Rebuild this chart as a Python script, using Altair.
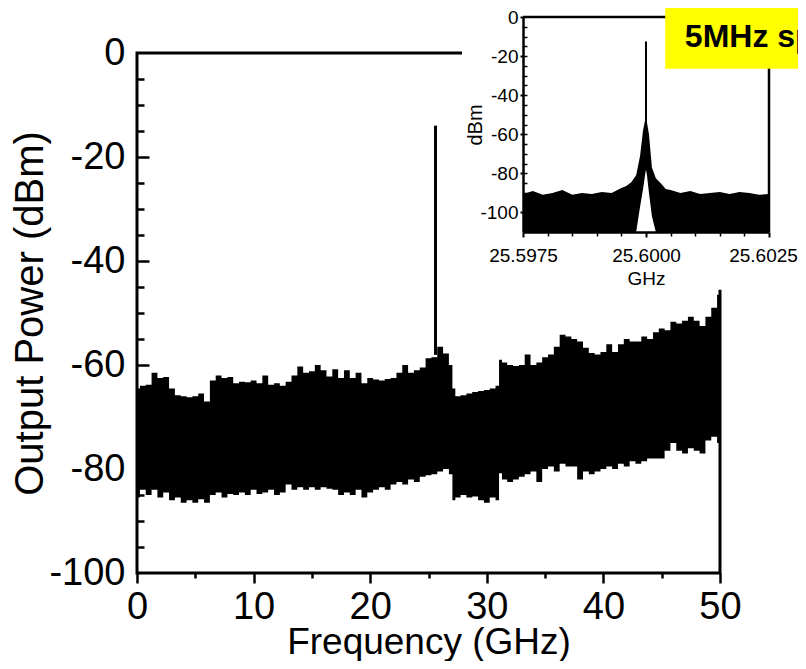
import altair as alt
import pandas as pd

FONT = "Liberation Sans"

# ---------------- main spectrum (0-50 GHz) ----------------
main_freq = [0.0, 0.5, 1.0, 1.5, 2.0, 2.5, 3.0, 3.5, 4.0, 4.5, 5.0, 5.5, 6.0, 6.5, 7.0, 7.5,
             8.0, 8.5, 9.0, 9.5, 10.0, 10.5, 11.0, 11.5, 12.0, 12.5, 13.0, 13.5, 14.0, 14.5,
             15.0, 15.5, 16.0, 16.5, 17.0, 17.5, 18.0, 18.5, 19.0, 19.5, 20.0, 20.5, 21.0,
             21.5, 22.0, 22.5, 23.0, 23.5, 24.0, 24.5, 25.0, 25.5, 26.0, 26.5, 27.0, 27.1,
             27.5, 28.0, 28.5, 29.0, 29.5, 30.0, 30.5, 31.0, 31.1, 31.5, 32.0, 32.5, 33.0,
             33.5, 34.0, 34.5, 35.0, 35.5, 36.0, 36.5, 37.0, 37.5, 38.0, 38.5, 39.0, 39.5,
             40.0, 40.5, 41.0, 41.5, 42.0, 42.5, 43.0, 43.5, 44.0, 44.5, 45.0, 45.5, 46.0,
             46.5, 47.0, 47.5, 48.0, 48.5, 49.0, 49.5, 50.0]
main_upper = [-64.5, -64.0, -63.8, -61.5, -62.5, -62.3, -64.5, -65.8, -66.0, -66.2, -66.0, -65.5,
              -67.0, -63.0, -62.0, -62.5, -62.3, -63.5, -63.2, -63.3, -63.0, -63.5, -62.0, -63.8,
              -63.5, -64.0, -63.2, -62.0, -60.3, -61.5, -61.2, -60.0, -61.0, -62.2, -60.8, -62.5,
              -61.0, -62.5, -61.5, -63.5, -62.5, -62.8, -63.0, -62.7, -62.5, -61.5, -60.0, -61.5,
              -61.0, -60.5, -58.7, -58.5, -56.5, -57.8, -60.0, -64.5, -66.0, -65.8, -65.5, -65.2,
              -65.0, -64.8, -64.5, -64.0, -59.0, -59.5, -60.0, -60.2, -60.0, -58.0, -60.0, -59.5,
              -58.5, -58.0, -56.5, -54.2, -54.5, -55.0, -55.5, -56.7, -57.7, -58.0, -57.5, -56.0,
              -57.5, -56.0, -55.0, -55.5, -55.5, -54.5, -55.0, -53.7, -53.0, -53.3, -51.7, -52.0,
              -51.5, -50.7, -51.5, -52.5, -50.7, -49.0, -46.5]
main_lower = [-85.5, -84.0, -85.0, -84.0, -85.5, -84.5, -86.0, -85.5, -86.5, -86.0, -86.5, -85.8,
              -86.5, -85.0, -84.5, -85.5, -84.8, -85.0, -84.5, -85.0, -84.0, -84.8, -84.5, -84.0,
              -85.0, -84.5, -83.0, -84.0, -83.5, -84.0, -83.5, -84.0, -83.5, -83.8, -84.0, -85.0,
              -84.5, -85.0, -84.0, -85.5, -84.5, -84.0, -83.5, -84.0, -83.0, -82.5, -83.0, -82.0,
              -82.5, -81.5, -81.2, -81.0, -80.5, -80.0, -81.0, -86.0, -85.5, -85.0, -85.5, -85.3,
              -86.0, -86.5, -85.5, -86.0, -80.8, -82.0, -82.5, -82.0, -81.5, -81.0, -80.5, -82.5,
              -80.0, -79.5, -80.5, -79.0, -79.5, -79.5, -82.0, -80.5, -81.0, -80.5, -80.0, -79.5,
              -80.0, -79.0, -79.5, -78.5, -79.0, -78.5, -78.0, -78.0, -78.0, -76.5, -75.0, -76.5,
              -77.0, -76.0, -76.5, -77.0, -74.5, -73.8, -75.0]
spike_freq = [25.6]
spike_top = [-14.0]
spike_base = [-58.0]

main_x_major = [0, 10, 20, 30, 40, 50]
main_x_minor = [5, 15, 25, 35, 45]
main_y_major = [0, -20, -40, -60, -80, -100]
main_y_inner_major = [-20, -40, -60, -80]
main_y_minor = [-5, -10, -15, -25, -30, -35, -45, -50, -55, -65, -70, -75, -85, -90, -95]

# ---------------- inset (5 MHz span around 25.6 GHz) ----------------
inset_center_ghz = 25.6
inset_offset_mhz = [-2.5, -2.3, -2.1, -1.9, -1.7, -1.5, -1.3, -1.1, -0.9, -0.7, -0.5, -0.4, -0.3,
                    -0.2, -0.12, -0.06, -0.02, 0.0, 0.02, 0.06, 0.12, 0.2, 0.3, 0.4, 0.5, 0.7,
                    0.9, 1.1, 1.3, 1.5, 1.7, 1.9, 2.1, 2.3, 2.5]
inset_upper = [-90.5, -89.0, -91.0, -90.0, -88.5, -91.0, -90.0, -90.5, -89.5, -90.0, -87.5, -86.5,
               -84.5, -81.0, -71.0, -58.0, -53.0, -50.0, -54.0, -60.0, -77.0, -82.5, -85.0, -88.0,
               -88.5, -90.0, -89.0, -90.5, -90.0, -89.5, -90.5, -89.5, -90.0, -91.0, -90.5]
inset_lower = [-110, -110, -110, -110, -110, -110, -110, -110, -110, -110, -110, -110, -110,
               -110, -97, -88, -81, -78, -81, -90, -102, -110, -110, -110, -110, -110,
               -110, -110, -110, -110, -110, -110, -110, -110, -110]
inset_peak_top = [-12.5]
inset_peak_base = [-55.0]

inset_x_major = [25.5975, 25.6, 25.6025]
inset_x_minor = [25.598, 25.5985, 25.599, 25.5995, 25.6005, 25.601, 25.6015, 25.602]
inset_y_major = [0, -20, -40, -60, -80, -100]
inset_y_minor = [-5, -10, -15, -20, -25, -30, -35, -40, -45, -50, -55, -60, -65, -70, -75,
                 -80, -85, -90, -95, -100, -105]
span_label = "5MHz span"

# ---------------- layout (pixels) ----------------
W, H = 583, 520
IX0, IX1 = 386, 632      # inset plot x range inside main plot area
IY0, IY1 = 179, -36      # inset plot y range (bottom, top)

xs_main = alt.Scale(domain=[0, 50], nice=False, zero=False)
ys_main = alt.Scale(domain=[-100, 0], nice=False, zero=False)
xs_in = alt.Scale(domain=[25.5975, 25.6025], range=[IX0, IX1], nice=False, zero=False)
ys_in = alt.Scale(domain=[-110, 0], range=[IY0, IY1], nice=False, zero=False)

common = dict(grid=False, labelFont=FONT, titleFont=FONT, labelColor="black", titleColor="black",
              tickColor="black", domainColor="black", titleFontWeight="normal")

main_df = pd.DataFrame({"f": main_freq, "upper": main_upper, "lower": main_lower})
spike_df = pd.DataFrame({"f": spike_freq, "top": spike_top, "base": spike_base})

band = alt.Chart(main_df).mark_area(color="black", interpolate="step", opacity=1).encode(
    x=alt.X("f:Q", scale=xs_main, axis=alt.Axis(
        orient="bottom", values=main_x_major, tickSize=10, tickWidth=2.5, domain=False,
        labelFontSize=38, labelPadding=5, labelFlush=False, labelOverlap=False,
        title="Frequency (GHz)", titleFontSize=37, titlePadding=-2, **common)),
    y=alt.Y("upper:Q", scale=ys_main, axis=alt.Axis(
        orient="left", values=main_y_major, ticks=False, tickSize=0, domain=False,
        labelFontSize=38, labelPadding=12, labelExpr="'' + datum.value", labelOverlap=False,
        title="Output Power (dBm)", titleFontSize=40, titlePadding=-2, **common)),
    y2="lower:Q",
)

spike = alt.Chart(spike_df).mark_rule(color="black", strokeWidth=3).encode(
    x=alt.X("f:Q", scale=xs_main, axis=alt.Axis(
        orient="bottom", values=main_x_minor, tickSize=5, tickWidth=2.5, domain=False,
        labels=False, title="", **common)),
    y=alt.Y("top:Q", scale=ys_main, axis=alt.Axis(
        orient="right", offset=-W, values=main_y_minor, tickSize=7, tickWidth=2.5,
        domain=False, labels=False, title="", **common)),
    y2="base:Q",
)

spike2 = alt.Chart(spike_df).mark_rule(color="black", strokeWidth=3).encode(
    x=alt.X("f:Q", scale=xs_main, axis=None),
    y=alt.Y("top:Q", scale=ys_main, axis=alt.Axis(
        orient="right", offset=-W, values=main_y_inner_major, tickSize=12, tickWidth=2.5,
        domain=False, labels=False, title="", **common)),
    y2="base:Q",
)

main_group = alt.layer(band, spike, spike2).resolve_axis(x="independent", y="independent")

# ---------------- inset layers ----------------
inset_df = pd.DataFrame({
    "f": [inset_center_ghz + o / 1000.0 for o in inset_offset_mhz],
    "upper": inset_upper, "lower": inset_lower,
})
inset_spike_df = pd.DataFrame({"f": [inset_center_ghz], "top": inset_peak_top,
                               "base": inset_peak_base})
bg_df = pd.DataFrame({"x1": [25.59626], "x2": [25.6048], "y1": [-139.5], "y2": [12.0]})
frame_df = pd.DataFrame({"x1": [25.5975, 25.6025], "x2": [25.6025, 25.6025],
                         "y1": [0.0, -110.0], "y2": [0.0, 0.0]})
box_df = pd.DataFrame({"x1": [25.60039], "x2": [25.6048], "y1": [-26.5], "y2": [6.5]})
label_df = pd.DataFrame({"x": [25.60079], "y": [-10.2], "t": [span_label]})

bg = alt.Chart(bg_df).mark_rect(color="white").encode(
    x=alt.X("x1:Q", scale=xs_in, axis=None), x2="x2:Q",
    y=alt.Y("y1:Q", scale=ys_in, axis=None), y2="y2:Q",
)

inset_band = alt.Chart(inset_df).mark_area(color="black", interpolate="linear", opacity=1).encode(
    x=alt.X("f:Q", scale=xs_in, axis=alt.Axis(
        orient="bottom", offset=-(H - IY0), values=inset_x_major, format=".4f",
        tickSize=5, tickWidth=2, domainWidth=2.5, labelFontSize=19, labelPadding=9,
        labelOffset={"condition": {"test": "datum.value > 25.602", "value": -6}, "value": 0},
        labelFlush=False, labelOverlap=False, title="GHz", titleFontSize=19, titlePadding=4,
        zindex=1, **common)),
    y=alt.Y("upper:Q", scale=ys_in, axis=alt.Axis(
        orient="left", offset=-IX0, values=inset_y_major, tickSize=3, tickWidth=2,
        domainWidth=2.5, labelFontSize=19, labelPadding=2, labelExpr="'' + datum.value",
        labelOverlap=False, title="dBm", titleFontSize=20, titlePadding=-6, zindex=1,
        **common)),
    y2="lower:Q",
)

inset_spike = alt.Chart(inset_spike_df).mark_rule(color="black", strokeWidth=2).encode(
    x=alt.X("f:Q", scale=xs_in, axis=alt.Axis(
        orient="bottom", offset=-(H - IY0), values=inset_x_minor, tickSize=4, tickWidth=1.5,
        domain=False, labels=False, title="", zindex=1, **common)),
    y=alt.Y("top:Q", scale=ys_in, axis=alt.Axis(
        orient="right", offset=IX0 - W, values=inset_y_minor, tickSize=4, tickWidth=1.5,
        domain=False, labels=False, title="", zindex=1, **common)),
    y2="base:Q",
)

frame = alt.Chart(frame_df).mark_rule(color="black", strokeWidth=2.5).encode(
    x=alt.X("x1:Q", scale=xs_in, axis=None), x2="x2:Q",
    y=alt.Y("y1:Q", scale=ys_in, axis=None), y2="y2:Q",
)

box = alt.Chart(box_df).mark_rect(color="#ffff00").encode(
    x=alt.X("x1:Q", scale=xs_in, axis=None), x2="x2:Q",
    y=alt.Y("y1:Q", scale=ys_in, axis=None), y2="y2:Q",
)

label = alt.Chart(label_df).mark_text(
    font=FONT, fontSize=32, fontWeight="bold", color="black", align="left", baseline="middle"
).encode(
    x=alt.X("x:Q", scale=xs_in, axis=None),
    y=alt.Y("y:Q", scale=ys_in, axis=None),
    text="t:N",
)

inset_group = alt.layer(bg, inset_band, inset_spike, frame, box, label).resolve_axis(
    x="independent", y="independent")

chart = alt.layer(main_group, inset_group).resolve_scale(
    x="independent", y="independent"
).properties(
    width=W, height=H,
    padding={"left": 129, "top": 45, "right": 78, "bottom": 88},
    autosize=alt.AutoSizeParams(type="none"),
    background="white",
).configure_view(stroke="black", strokeWidth=3)

chart.save("out.html", embed_options={"renderer": "svg", "actions": False})
